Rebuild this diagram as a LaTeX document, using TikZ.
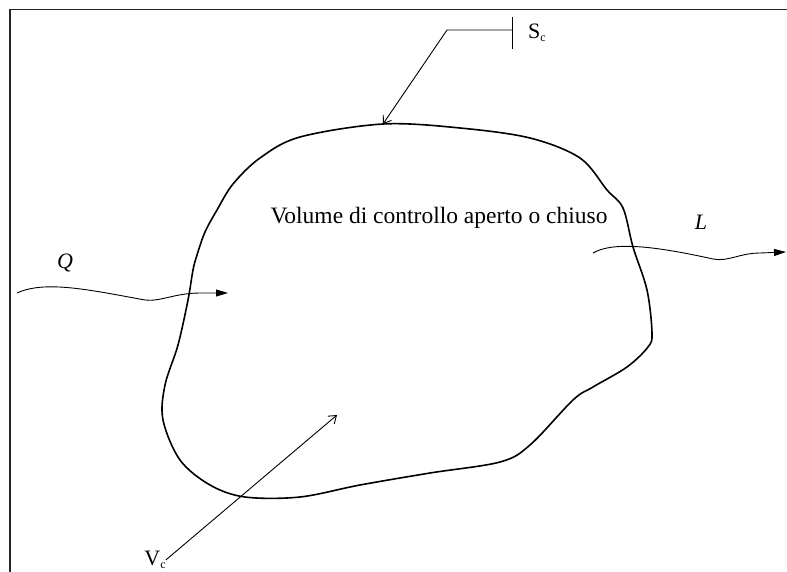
\documentclass[tikz,border=0pt]{standalone}
\usepackage{fontspec}
\setmainfont{Liberation Serif}
\usetikzlibrary{arrows.meta}
\newcommand{\pedc}[1]{#1\raisebox{-3pt}{\fontsize{12}{12}\selectfont c}}

\begin{document}
\begin{tikzpicture}[x=1pt,y=-1pt,
    lbl/.style={font=\fontsize{22}{26}\selectfont, inner sep=0pt},
    flux/.style={line width=0.9pt, -{Triangle[length=12pt,width=7pt]}},
    ptr/.style={line width=0.9pt, -{Straight Barb[length=7pt,width=10pt]}}]
    \useasboundingbox (0,0) rectangle (787,572);
    \draw[line width=1.5pt, black!85] (10,572) -- (10,9.5) -- (787,9.5);

    \draw[line width=1.6pt] plot[smooth cycle, tension=0.55] coordinates {
        (383,124) (460,128) (530,138) (580,158) (607,190) (623,208)
        (633,247) (647,290) (652,333) (648,347) (627,367) (593,387)
        (573,400) (530,445) (500,462) (430,473) (360,485) (300,497)
        (245,497) (210,485) (180,460) (163,420) (165,385) (178,345)
        (188,300) (193,270) (197,255) (205,232) (217,210) (233,184)
        (260,158) (300,137)};

    \node[lbl, font=\fontsize{23.5}{28}\selectfont, anchor=base] (vol) at (439,224) {Volume di controllo aperto o chiuso};

    \node[lbl] (sc) at (537,33) {\pedc{S}};
    \coordinate (sctop) at (512,17);
    \coordinate (scbot) at (512,49);
    \coordinate (scknee) at (447,30);
    \coordinate (sctip) at (383,124);
    \draw[line width=0.9pt] (sctop) -- (scbot);
    \draw[ptr] (sctop |- scknee) -- (scknee) -- (sctip);

    \node[lbl, font=\fontsize{22}{26}\selectfont\itshape] (q) at (65,263) {Q};
    \coordinate (qin) at (17,293);
    \coordinate (qout) at (228,293);
    \draw[flux] (qin) .. controls (45,280) and (90,290) .. (145,300)
        .. controls (160,302) and (175,293) .. (200,293) -- (qout);

    \node[lbl, font=\fontsize{22}{26}\selectfont\itshape] (l) at (701,222) {L};
    \coordinate (lin) at (593,253);
    \coordinate (lout) at (786,252);
    \draw[flux] (lin) .. controls (612,242) and (650,245) .. (713,259)
        .. controls (728,262) and (740,253) .. (760,253) -- (lout);

    \node[lbl] (vc) at (155,560) {\pedc{V}};
    \coordinate (vcin) at (337,415);
    \draw[ptr] (vc.east) -- (vcin);
\end{tikzpicture}
\end{document}
